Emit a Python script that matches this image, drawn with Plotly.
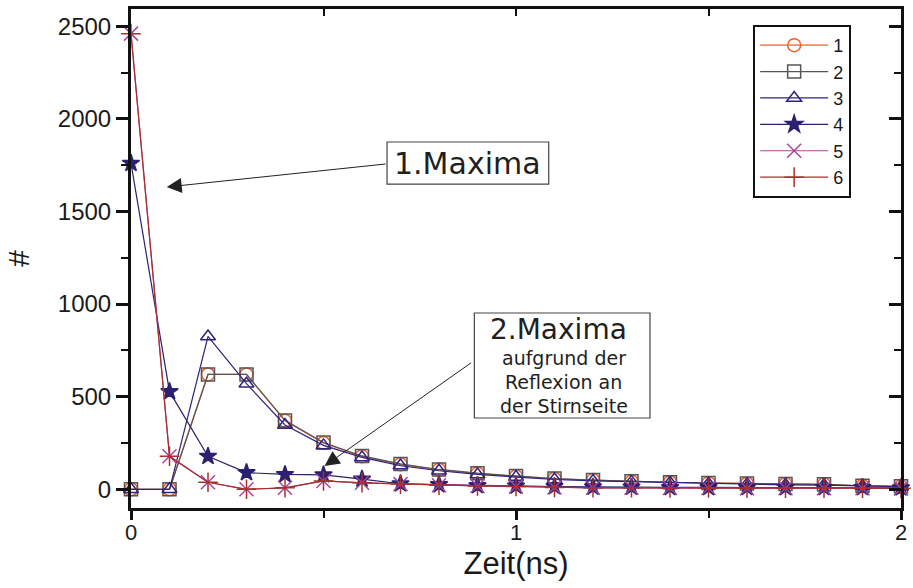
import plotly.graph_objects as go

x_ns = [round(i * 0.1, 1) for i in range(21)]

s1 = [0, 0, 620, 620, 370, 250, 178, 135, 105, 85, 70, 57, 50, 42, 38, 33, 30, 28, 27, 18, 15]
s2 = [0, 0, 620, 620, 372, 252, 180, 137, 107, 87, 72, 58, 50, 43, 38, 34, 31, 29, 27, 19, 16]
s3 = [0, 0, 825, 570, 347, 237, 172, 128, 100, 80, 66, 53, 45, 40, 35, 30, 28, 24, 23, 18, 14]
s4 = [1760, 527, 178, 90, 80, 78, 55, 30, 25, 20, 18, 15, 12, 12, 10, 10, 10, 10, 10, 10, 8]
s5 = [2460, 178, 38, 0, 8, 45, 35, 28, 22, 18, 15, 10, 8, 8, 7, 7, 6, 6, 6, 6, 5]
s6 = [2460, 178, 38, 0, 8, 45, 35, 28, 22, 18, 15, 10, 8, 8, 7, 7, 6, 6, 6, 6, 5]

names = ["1", "2", "3", "4", "5", "6"]
series = [s1, s2, s3, s4, s5, s6]
colors = ["#F0602A", "#555555", "#2E2480", "#2A2270", "#A8449A", "#A8302A"]
symbols = ["circle-open", "square-open", "triangle-up-open", "star", "x-thin-open", "cross-thin-open"]
sizes = [13, 13, 13, 13, 14, 14]

fig = go.Figure()
for n, s, c, sym, sz in zip(names, series, colors, symbols, sizes):
    fig.add_trace(go.Scatter(
        x=x_ns, y=s, name=n, mode="lines+markers",
        line=dict(color=c, width=1.2),
        marker=dict(symbol=sym, size=sz, color=c, line=dict(color=c, width=1.5)),
        cliponaxis=False,
    ))

ytickfont = dict(family="Liberation Sans, Arial", size=24, color="#1a1a1a")
xtickfont = dict(family="Liberation Sans, Arial", size=22, color="#1a1a1a")
fig.update_layout(
    width=913, height=588,
    margin=dict(l=131, r=6, t=9, b=80),
    plot_bgcolor="white", paper_bgcolor="white",
    showlegend=True,
    legend=dict(
        x=0.808, y=0.968, xanchor="left", yanchor="top",
        bordercolor="#111", borderwidth=2, bgcolor="white",
        font=dict(family="Liberation Sans, Arial", size=18, color="#1a1a1a"),
        itemwidth=68, tracegroupgap=0,
    ),
    xaxis=dict(
        range=[0, 2], tickvals=[0, 1, 2], ticktext=["0", "1", "2"],
        ticks="outside", ticklen=9, tickwidth=3, tickcolor="#111",
        minor=dict(tickvals=[0.5, 1.5], ticks="outside", ticklen=7, tickwidth=2, tickcolor="#111"),
        showline=True, linewidth=3, linecolor="#111",
        showgrid=False, zeroline=False,
        tickfont=xtickfont, ticklabeloverflow="allow", ticklabelstandoff=-6,
        title=dict(text="Zeit(ns)", font=dict(family="Liberation Sans, Arial", size=31, color="#1a1a1a"), standoff=8),
    ),
    yaxis=dict(
        range=[-101, 2593], tickvals=[0, 500, 1000, 1500, 2000, 2500],
        ticks="outside", ticklen=12, tickwidth=3, tickcolor="#111",
        minor=dict(tickvals=[250, 750, 1250, 1750, 2250], ticks="outside", ticklen=7, tickwidth=2, tickcolor="#111"),
        showline=True, linewidth=3, linecolor="#111",
        showgrid=False, zeroline=False,
        tickfont=ytickfont,
        title=dict(text="#", font=dict(family="Liberation Sans, Arial", size=30, color="#1a1a1a"), standoff=20),
    ),
    xaxis2=dict(
        overlaying="x", side="top", anchor="y", range=[0, 2],
        tickvals=[0.5, 1, 1.5], ticks="inside", ticklen=7, tickwidth=2, tickcolor="#111",
        showticklabels=False, showline=True, linewidth=3, linecolor="#111",
        showgrid=False, zeroline=False,
    ),
    yaxis2=dict(
        overlaying="y", side="right", anchor="x", range=[-101, 2593],
        tickvals=[0, 500, 1000, 1500, 2000, 2500], ticks="inside", ticklen=12, tickwidth=3, tickcolor="#111",
        minor=dict(tickvals=[250, 750, 1250, 1750, 2250], ticks="inside", ticklen=7, tickwidth=2, tickcolor="#111"),
        showticklabels=False, showline=True, linewidth=3, linecolor="#111",
        showgrid=False, zeroline=False,
    ),
)

# dummy invisible trace so the mirror axes are drawn
fig.add_trace(go.Scatter(x=[None], y=[None], xaxis="x2", yaxis="y2", showlegend=False, hoverinfo="skip"))

annfont = dict(family="DejaVu Sans", color="#231f20")

fig.add_shape(type="rect", xref="paper", yref="paper", x0=0.3325, x1=0.5425, y0=0.649, y1=0.7335,
              line=dict(color="#444", width=1.2), fillcolor="white", layer="above")
fig.add_shape(type="rect", xref="paper", yref="paper", x0=0.4459, x1=0.674, y0=0.1804, y1=0.3908,
              line=dict(color="#444", width=1.2), fillcolor="white", layer="above")

fig.add_annotation(xref="paper", yref="paper", x=0.4375, y=0.691, text="1.Maxima",
                   showarrow=False, font=dict(size=30, **annfont), xanchor="center", yanchor="middle")
fig.add_annotation(xref="paper", yref="paper", x=0.5555, y=0.3587, text="2.Maxima",
                   showarrow=False, font=dict(size=28, **annfont), xanchor="center", yanchor="middle",
                   borderpad=0)
for txt, yy in [("aufgrund der", 0.2996), ("Reflexion an", 0.2525), ("der Stirnseite", 0.2054)]:
    fig.add_annotation(xref="paper", yref="paper", x=0.5619, y=yy, text=txt,
                       showarrow=False, font=dict(size=19, **annfont), xanchor="center", yanchor="middle",
                       borderpad=0)

fig.add_annotation(x=0.0928, y=1632, ax=0.665, ay=1757, xref="x", yref="y", axref="x", ayref="y",
                   text="", showarrow=True, arrowhead=2, arrowsize=3, arrowwidth=1, arrowcolor="#222")
fig.add_annotation(x=0.5026, y=126, ax=0.887, ay=688, xref="x", yref="y", axref="x", ayref="y",
                   text="", showarrow=True, arrowhead=2, arrowsize=3, arrowwidth=1, arrowcolor="#222")

fig.write_html("out.html")
